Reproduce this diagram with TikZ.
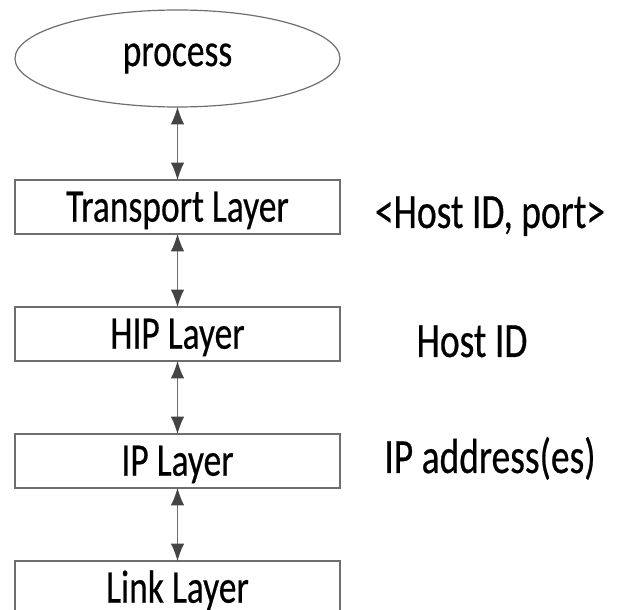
\documentclass[tikz,border=0pt]{standalone}
\usepackage{fontspec}
\setmainfont[FakeStretch=0.76,FakeBold=0.4]{Carlito}
\usetikzlibrary{positioning,shapes.geometric,arrows.meta}

\definecolor{edgegray}{HTML}{6E6E6E}
\definecolor{tipgray}{HTML}{444444}

\tikzset{
  layer/.style={rectangle,draw=edgegray,line width=0.9pt,minimum width=243.75pt,
    minimum height=40.5pt,inner sep=0pt,outer sep=0pt,text height=22pt,text depth=0pt},
  link/.style={draw=edgegray,line width=0.75pt,
    {Latex[length=13pt,width=10pt,color=tipgray]}-{Latex[length=13pt,width=10pt,color=tipgray]}},
  note/.style={anchor=base,inner sep=0pt,font=\fontsize{37pt}{44pt}\selectfont}
}

\begin{document}
\begin{tikzpicture}[x=0.75pt,y=-0.75pt,node distance=54.75pt,
    every node/.append style={font=\fontsize{35pt}{42pt}\selectfont}]
    \useasboundingbox (0,0) rectangle (619,610);

    \node[ellipse,draw=edgegray,line width=0.9pt,minimum width=243.75pt,minimum height=72.75pt,
      inner sep=0pt,outer sep=0pt] (proc) at (177.5,58.5) {process};
    \node[layer,below=of proc] (trans) {Transport Layer};
    \node[layer,below=of trans] (hip) {HIP Layer};
    \node[layer,below=of hip] (ip) {IP Layer};
    \node[layer,below=of ip] (linklayer) {Link Layer};

    \draw[link] (proc) -- (trans);
    \draw[link] (trans) -- (hip);
    \draw[link] (hip) -- (ip);
    \draw[link] (ip) -- (linklayer);

    % identifiers at each layer
    \node[note] (transid) at (490,228) {<Host ID, port>};
    \node[note] (hipid) at (472,357) {Host ID};
    \node[note] (ipid) at (490,473) {IP address(es)};
\end{tikzpicture}
\end{document}
